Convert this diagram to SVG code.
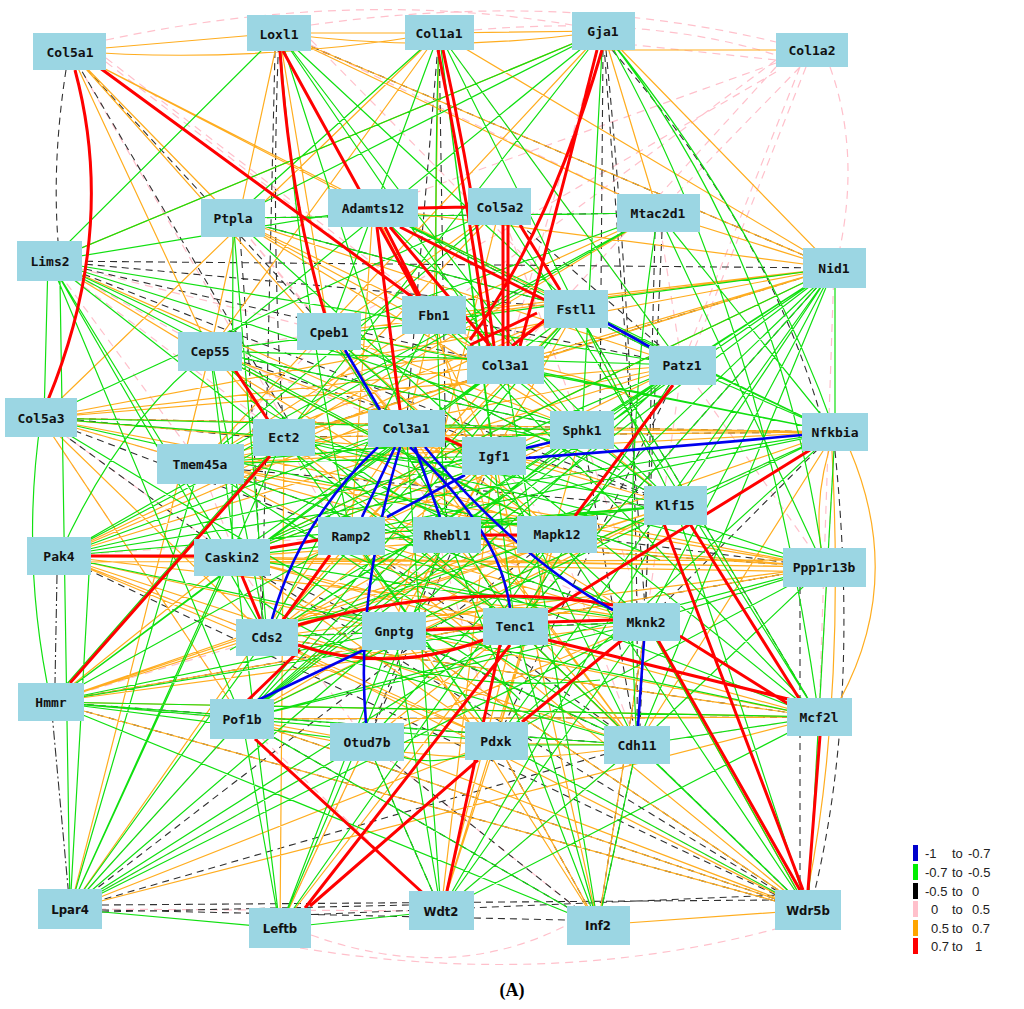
<svg xmlns="http://www.w3.org/2000/svg" width="1024" height="1009" viewBox="0 0 1024 1009">
<style>
.bg{fill:#ffffff}
.g{stroke:#10e010;stroke-width:1.2;fill:none}
.o{stroke:#ffad1f;stroke-width:1.2;fill:none}
.k{stroke:#303030;stroke-width:1.1;fill:none;stroke-dasharray:7 5}
.kd{stroke:#303030;stroke-width:1.1;fill:none;stroke-dasharray:9 3 2 3}
.p{stroke:#ffc0cb;stroke-width:1.2;fill:none;stroke-dasharray:8 6}
.r{stroke:#ff0000;stroke-width:3;fill:none}
.b{stroke:#0000ee;stroke-width:2.6;fill:none}
.n rect{fill:#9bd6e3}
.n text{font-family:"DejaVu Sans Mono","Liberation Mono",monospace;font-size:13px;font-weight:bold;fill:#111;text-anchor:middle;dominant-baseline:central}
.nc text{font-family:"DejaVu Sans Condensed","DejaVu Sans","Liberation Sans",sans-serif;font-stretch:condensed;font-size:13px;font-weight:bold;fill:#111;text-anchor:middle;dominant-baseline:central}
.lg{font-family:"Liberation Sans","DejaVu Sans",sans-serif;font-size:13px;fill:#222}
</style>
<rect class="bg" x="0" y="0" width="1024" height="1009"/>
<g id="connectors">
<path class="p" d="M311 25Q560 -10 776 42M106 40Q350 -12 572 25M474 30Q650 15 776 55M776 60L635 45M800 67L682 365M806 67L688 365M776 63L373 208M776 72L329 332M776 60L434 315M776 67L505 365M800 67L658 213M830 67Q860 150 840 248M106 62L434 315M106 58L505 365M311 40L576 309M311 45L658 213M50 261L210 351M50 261L284 437M70 51L351 536M41 418L200 464M41 418L232 557M59 556L267 637M51 702L242 719M311 935Q450 985 567 925M300 948Q560 990 790 925M70 909L441 911M835 432L819 717M824 567L819 717M834 268L824 567M819 717L808 910M210 351L329 332M200 464L329 332M233 218L406 428M603 31L505 365M439 33L682 365M329 332L447 535M284 437L394 631M200 464L267 637M41 418L242 719M70 909L367 742M441 911L637 745M598 925L496 741M808 910L646 622M682 365L824 567M576 309L835 432M658 213L682 365M505 365L675 505M406 428L496 741M557 534L637 745M232 557L367 742M50 261L200 464M50 261L329 332M41 418L284 437M59 556L351 536M51 702L267 637M70 909L242 719M280 928L367 742M233 218L329 332M210 351L406 428M373 208L505 365M500 207L582 430M576 309L675 505M682 365L646 622M835 432L675 505M824 567L646 622M819 717L637 745M496 741L808 910M367 742L598 925M242 719L441 911M267 637L394 631M351 536L515 626M447 535L646 622M494 456L557 534M582 430L646 622"/>
<path class="k" d="M66 70Q52 160 58 241M70 51L300 440M50 261L834 268M50 261L576 309M50 261L675 505M50 261L505 365M240 237Q255 430 262 619M279 33Q270 240 284 437M275 51Q268 350 262 619M603 50L600 411M606 50Q640 400 637 726M612 50Q765 225 820 413M655 232L646 603M662 232L640 726M834 268L284 437M835 451Q860 700 815 890M800 587L800 890M102 905L775 900M102 910L567 920M102 912L409 905M70 909L637 745M70 909L557 534M300 915L780 895M808 910L242 719M808 910L59 556M808 910L232 557M598 925L367 742M51 702L808 910M51 702L824 567M51 702L637 745M41 418L232 557M41 418L351 536M77 420L253 437M329 332L515 626M329 332L675 505M210 351L675 505M200 464L646 622M244 470L644 505M373 208L682 365M500 207L682 365M434 315L682 365M576 309L819 717M682 365L515 626M682 365L496 741M582 430L637 745M232 557L637 745M351 536L637 745M447 535L367 742M494 456L367 742M394 631L808 910M267 637L819 717M242 719L598 925M367 742L441 911M496 741L598 925M637 745L598 925M646 622L598 925M515 626L808 910M439 33L406 428M439 33L447 535M603 31L646 622M658 213L233 218M834 268L515 626M835 432L646 622M824 567L557 534M70 51L329 332M279 33L834 268M41 418L835 432M233 218L576 309M210 351L582 430M406 428L582 430M284 437L835 432M351 536L824 567M267 637L646 622M242 719L819 717"/>
<path class="kd" d="M57 575L55 683M70 909L51 702"/>
<path class="o" d="M70 51L279 33M70 51Q250 65 439 33M70 51L373 208M70 51L210 351M70 51L233 218M70 51L406 428M70 51L576 309M279 33L439 33M279 33Q440 55 603 31M279 33L658 213M279 33L834 268M279 33L210 351M279 33L329 332M439 33L603 31M439 33L434 315M439 33L834 268M439 33L210 351M439 33L41 418M603 50L812 50M603 31L658 213M603 31L834 268M603 31L50 261M603 31L200 464M658 213L834 268M658 213L434 315M658 213L284 437M834 268L373 208M834 268L434 315M834 268L505 365M834 268L329 332M834 268L284 437M834 268L232 557M834 268L200 464M834 268L41 418M850 450Q905 580 840 700M835 432L284 437M835 432L41 418M835 432L406 428M835 432L200 464M835 432L51 702M835 432L637 745M835 432Q810 500 824 567M832 451Q845 700 808 890M824 567L59 556M824 567L232 557M824 567L351 536M824 567L267 637M824 567L200 464M824 567L447 535M824 567L41 418M824 567L51 702M826 560L59 562M826 572L232 562M819 717L51 702M819 717L242 719M819 717L267 637M819 717L70 909M819 717L232 557M819 717L394 631M808 910L598 925M808 910L367 742M808 910L242 719M808 910L267 637M808 910L51 702M808 910L394 631M808 910L646 622M808 910L351 536M51 702L232 557M51 702L646 622M51 702L675 505M51 702L557 534M59 556L646 622M59 556L394 631M59 556L505 365M59 556L267 637M59 556L496 741M59 556L637 745M41 418L494 456M41 418L682 365M41 418L505 365M41 418L447 535M41 418L267 637M41 418L242 719M50 261L646 622M50 261L494 456M70 909L496 741M70 909L406 428M70 909Q150 600 210 351M280 928L284 437M280 928L367 742M280 928L515 626M441 911L496 741M441 911L515 626M441 911L557 534M441 911L494 456M598 925L496 741M598 925L351 536M598 925L494 456M598 925L646 622M210 351L284 437M210 351L494 456M210 351L557 534M329 332L505 365M329 332L582 430M329 332L557 534M329 332L637 745M233 218L434 315M233 218L505 365M233 218L682 365M233 218L582 430M373 208L494 456M373 208L351 536M500 207L329 332M500 207L284 437M500 207L394 631M434 315L406 428M434 315L200 464M434 315L515 626M576 309L200 464M576 309L59 556M576 309L351 536M576 309L394 631M505 365L267 637M505 365L675 505M682 365L200 464M682 365L59 556M682 365L494 456M406 428L675 505M406 428L557 534M406 428L637 745M582 430L351 536M582 430L232 557M582 430L496 741M284 437L557 534M284 437L515 626M494 456L394 631M494 456L267 637M200 464L557 534M200 464L515 626M675 505L351 536M675 505L267 637M675 505L394 631M675 505L242 719M232 557L515 626M232 557L557 534M232 557L496 741M351 536L646 622M447 535L637 745M447 535L267 637M557 534L242 719M557 534L496 741M267 637L496 741M394 631L496 741M394 631Q520 590 646 622M515 626L637 745M515 626L367 742M242 719L367 742M242 719Q450 780 637 745M367 742L637 745M367 742L646 622M300 560Q430 500 560 560M300 600Q450 660 610 590M250 470Q420 420 600 480M330 380Q480 330 640 400"/>
<path class="g" d="M50 261L279 33M50 261L603 31M50 261L373 208M50 261L682 365M50 261L406 428M50 261L232 557M50 261L267 637M48 261L44 418M50 261L242 719M50 261L515 626M50 261L557 534M50 261L582 430M279 33L505 365M279 33L406 428M279 33L582 430M279 33L576 309M279 33Q300 300 351 536M439 33L329 332M439 33L233 218M439 33L494 456M439 33L682 365M439 33L675 505M439 33L515 626M439 33Q430 300 447 535M603 31Q760 220 835 432M603 31Q780 250 824 567M603 31L582 430M603 31L233 218M603 31L210 351M603 31L284 437M603 31Q760 300 819 717M658 213L835 432M658 213L824 567M658 213L329 332M658 213L200 464M658 213L59 556M658 213Q620 450 637 745M835 268L835 432M834 268L675 505M834 268L646 622M834 268L637 745M834 268L515 626M834 268L496 741M834 268L242 719M834 268L232 557M834 268L210 351M834 268L447 535M834 268L557 534M834 268L582 430M834 268L267 637M835 432L682 365M835 432L576 309M835 432L505 365M835 432L329 332M835 432L373 208M835 432L59 556M835 432L232 557M835 432L394 631M835 432L496 741M835 432L808 910M835 432L242 719M824 567L646 622M824 567L637 745M824 567L242 719M824 567L496 741M824 567L406 428M824 567L284 437M51 702L367 742M51 702L496 741M51 702L637 745M51 702L819 717M51 702L394 631M51 702L515 626M51 702L351 536M51 702Q20 560 41 418M51 702L284 437M51 702L576 309M70 909L242 719M70 909L267 637M70 909L232 557M70 909L284 437M70 909L367 742M70 909L515 626M70 909L646 622M70 909L280 928M70 909L394 631M70 909L90 556M70 909L60 281M70 909L200 464M280 928L441 911M280 928L242 719M280 928L394 631M280 928L447 535M280 928L557 534M280 928L210 351M441 911L367 742M441 911L394 631M441 911L637 745M441 911L646 622M441 911L819 717M441 911L406 428M441 911L675 505M598 925L242 719M598 925L637 745M598 925L515 626M598 925L51 702M598 925L406 428M598 925L505 365M808 910L637 745M808 910L646 622M808 910L515 626M808 910L496 741M808 910L557 534M808 910L675 505M59 556Q120 420 210 351M59 556L284 437M59 556L494 456M59 556L406 428M59 556L675 505M59 556L819 717M41 418L284 437M41 418L557 534M41 418L582 430M41 418L500 207M41 418L394 631M210 351L682 365M210 351L582 430M210 351L515 626M210 351L267 637M329 332L675 505M329 332L646 622M329 332L515 626M233 218L658 213M233 218L576 309M233 218L494 456M233 218L267 637M233 218L232 557M284 437L675 505M284 437L646 622M284 437L496 741M200 464L582 430M200 464L646 622M200 464L637 745M200 464L494 456M232 557L646 622M232 557L675 505M232 557L582 430M351 536L675 505M351 536L496 741M351 536L819 717M447 535L242 719M447 535L682 365M557 534L367 742M557 534L267 637M557 534L210 351M394 631L637 745M394 631L682 365M267 637L646 622M267 637L637 745M367 742Q430 780 496 741M528 745L604 745M637 745L819 717M242 719L646 622M242 719L494 456M242 719L576 309M434 315L675 505M434 315L267 637M434 315L819 717M505 365L232 557M505 365L51 702M582 430L267 637M582 430L242 719M494 456L637 745M494 456L819 717M500 207L819 717M500 207L200 464M373 208L675 505M373 208L682 365M576 309L819 717M576 309L267 637M682 365L232 557M682 365L242 719M682 365L515 626M300 470Q450 380 620 470M280 520Q420 600 560 600M340 580Q500 480 660 560M260 600Q400 700 600 680M250 400Q400 500 540 440M360 470Q480 560 600 500M230 650Q380 560 520 700"/>
<path class="r" d="M75 70Q118 230 48 400M100 68L430 310M283 51L420 300M280 51Q290 200 325 315M438 50Q468 200 488 346M443 50Q476 200 494 346M597 50Q560 200 520 346M602 50Q550 230 470 340M418 208L468 207M400 227L545 300M390 227L490 346M385 227L420 296M377 227L400 410M503 225L503 346M508 225L508 346M520 225L560 290M545 320L512 346M537 313L470 345M235 370L268 420M270 456L70 683M91 556L194 556M242 576L260 619M270 548L318 540M283 620L330 555M481 535L517 535M426 630L483 628M548 622L613 620M298 645Q390 675 483 640M298 625Q460 580 613 605M255 739L425 895M310 906L478 760M305 908L510 645M447 891L500 645M658 640L800 890M664 524L803 890M690 524L800 700M680 636L790 705M548 640L792 700M810 450L548 612M673 385L575 516M522 722L622 640M820 736L808 890M445 438L462 446M248 700L300 650"/>
<path class="b" d="M345 350L380 410M605 322L650 347M526 448L556 441M526 458Q700 445 802 435M395 447L362 517M415 447L440 517M425 447Q520 560 613 610M410 447Q500 530 510 608M378 447Q300 520 272 619M465 475L387 517M400 447Q355 600 366 723M368 648L258 700M644 641L638 726"/>
</g>
<g id="node-Col5a1" class="n"><rect x="33" y="33" width="73" height="37"/><text x="70" y="52">Col5a1</text></g>
<g id="node-Loxl1" class="n"><rect x="247" y="15" width="64" height="36"/><text x="279" y="34">Loxl1</text></g>
<g id="node-Col1a1" class="n"><rect x="405" y="15" width="69" height="35"/><text x="439" y="33">Col1a1</text></g>
<g id="node-Gja1" class="n"><rect x="572" y="12" width="63" height="38"/><text x="603" y="31">Gja1</text></g>
<g id="node-Col1a2" class="n"><rect x="776" y="33" width="72" height="34"/><text x="812" y="50">Col1a2</text></g>
<g id="node-Ptpla" class="n"><rect x="201" y="199" width="64" height="38"/><text x="233" y="218">Ptpla</text></g>
<g id="node-Adamts12" class="n"><rect x="328" y="189" width="90" height="38"/><text x="373" y="208">Adamts12</text></g>
<g id="node-Col5a2" class="n"><rect x="468" y="188" width="63" height="37"/><text x="500" y="207">Col5a2</text></g>
<g id="node-Mtac2d1" class="n"><rect x="617" y="194" width="83" height="38"/><text x="658" y="213">Mtac2d1</text></g>
<g id="node-Lims2" class="n"><rect x="17" y="241" width="65" height="40"/><text x="50" y="261">Lims2</text></g>
<g id="node-Nid1" class="n"><rect x="803" y="248" width="63" height="40"/><text x="834" y="268">Nid1</text></g>
<g id="node-Fbn1" class="n"><rect x="402" y="296" width="64" height="38"/><text x="434" y="315">Fbn1</text></g>
<g id="node-Fstl1" class="n"><rect x="544" y="290" width="64" height="38"/><text x="576" y="309">Fstl1</text></g>
<g id="node-Cpeb1" class="n"><rect x="297" y="313" width="64" height="37"/><text x="329" y="332">Cpeb1</text></g>
<g id="node-Cep55" class="n"><rect x="178" y="332" width="64" height="39"/><text x="210" y="351">Cep55</text></g>
<g id="node-Col3a1-top" class="n"><rect x="467" y="346" width="77" height="38"/><text x="505" y="365">Col3a1</text></g>
<g id="node-Patz1" class="n"><rect x="649" y="346" width="67" height="39"/><text x="682" y="365">Patz1</text></g>
<g id="node-Col5a3" class="n"><rect x="5" y="398" width="72" height="39"/><text x="41" y="418">Col5a3</text></g>
<g id="node-Col3a1" class="n"><rect x="368" y="410" width="77" height="37"/><text x="406" y="428">Col3a1</text></g>
<g id="node-Sphk1" class="n"><rect x="550" y="411" width="64" height="38"/><text x="582" y="430">Sphk1</text></g>
<g id="node-Ect2" class="n"><rect x="253" y="419" width="62" height="37"/><text x="284" y="437">Ect2</text></g>
<g id="node-Nfkbia" class="n"><rect x="802" y="413" width="66" height="38"/><text x="835" y="432">Nfkbia</text></g>
<g id="node-Igf1" class="n"><rect x="462" y="437" width="64" height="38"/><text x="494" y="456">Igf1</text></g>
<g id="node-Tmem45a" class="n"><rect x="157" y="444" width="87" height="40"/><text x="200" y="464">Tmem45a</text></g>
<g id="node-Klf15" class="n"><rect x="644" y="486" width="63" height="39"/><text x="675" y="505">Klf15</text></g>
<g id="node-Ramp2" class="n"><rect x="318" y="517" width="67" height="38"/><text x="351" y="536">Ramp2</text></g>
<g id="node-Rhebl1" class="n"><rect x="413" y="517" width="68" height="36"/><text x="447" y="535">Rhebl1</text></g>
<g id="node-Mapk12" class="n"><rect x="517" y="516" width="80" height="37"/><text x="557" y="534">Mapk12</text></g>
<g id="node-Pak4" class="n"><rect x="27" y="537" width="64" height="38"/><text x="59" y="556">Pak4</text></g>
<g id="node-Caskin2" class="n"><rect x="194" y="539" width="76" height="37"/><text x="232" y="557">Caskin2</text></g>
<g id="node-Ppp1r13b" class="n"><rect x="783" y="548" width="83" height="39"/><text x="824" y="567">Ppp1r13b</text></g>
<g id="node-Cds2" class="n"><rect x="236" y="619" width="62" height="37"/><text x="267" y="637">Cds2</text></g>
<g id="node-Gnptg" class="n"><rect x="362" y="612" width="64" height="38"/><text x="394" y="631">Gnptg</text></g>
<g id="node-Tenc1" class="n"><rect x="483" y="608" width="65" height="37"/><text x="515" y="626">Tenc1</text></g>
<g id="node-Mknk2" class="n"><rect x="613" y="603" width="67" height="38"/><text x="646" y="622">Mknk2</text></g>
<g id="node-Hmmr" class="n"><rect x="18" y="683" width="66" height="38"/><text x="51" y="702">Hmmr</text></g>
<g id="node-Mcf2l" class="n"><rect x="787" y="698" width="65" height="38"/><text x="819" y="717">Mcf2l</text></g>
<g id="node-Pof1b" class="n"><rect x="210" y="699" width="64" height="40"/><text x="242" y="719">Pof1b</text></g>
<g id="node-Otud7b" class="n"><rect x="330" y="723" width="74" height="38"/><text x="367" y="742">Otud7b</text></g>
<g id="node-Pdxk" class="n"><rect x="465" y="722" width="63" height="38"/><text x="496" y="741">Pdxk</text></g>
<g id="node-Cdh11" class="n"><rect x="604" y="726" width="66" height="38"/><text x="637" y="745">Cdh11</text></g>
<g id="node-Lpar4" class="nc"><rect x="38" y="889" width="64" height="40" fill="#9bd6e3"/><text x="70" y="909">Lpar4</text></g>
<g id="node-Leftb" class="nc"><rect x="249" y="908" width="62" height="40" fill="#9bd6e3"/><text x="280" y="928">Leftb</text></g>
<g id="node-Wdt2" class="nc"><rect x="409" y="891" width="65" height="39" fill="#9bd6e3"/><text x="441" y="911">Wdt2</text></g>
<g id="node-Inf2" class="nc"><rect x="567" y="906" width="63" height="39" fill="#9bd6e3"/><text x="598" y="925">Inf2</text></g>
<g id="node-Wdr5b" class="nc"><rect x="775" y="890" width="66" height="40" fill="#9bd6e3"/><text x="808" y="910">Wdr5b</text></g>
<g id="legend">
<rect x="913" y="845" width="5" height="16" fill="#0000cc"/>
<rect x="913" y="864" width="5" height="16" fill="#00ee00"/>
<rect x="913" y="883" width="5" height="16" fill="#000000"/>
<rect x="913" y="901" width="5" height="16" fill="#ffc0cb"/>
<rect x="913" y="920" width="5" height="16" fill="#ffa500"/>
<rect x="913" y="938" width="5" height="16" fill="#ff0000"/>
<text class="lg" x="925" y="858">-1</text><text class="lg" x="952" y="858">to</text><text class="lg" x="968" y="858">-0.7</text>
<text class="lg" x="925" y="877">-0.7</text><text class="lg" x="952" y="877">to</text><text class="lg" x="968" y="877">-0.5</text>
<text class="lg" x="925" y="896">-0.5</text><text class="lg" x="952" y="896">to</text><text class="lg" x="972" y="896">0</text>
<text class="lg" x="931" y="914">0</text><text class="lg" x="952" y="914">to</text><text class="lg" x="972" y="914">0.5</text>
<text class="lg" x="931" y="933">0.5</text><text class="lg" x="952" y="933">to</text><text class="lg" x="972" y="933">0.7</text>
<text class="lg" x="931" y="951">0.7</text><text class="lg" x="952" y="951">to</text><text class="lg" x="975" y="951">1</text>
</g>
<text x="512" y="996" font-family="Liberation Serif,serif" font-size="18" font-weight="bold" text-anchor="middle" fill="#000">(A)</text>
</svg>
